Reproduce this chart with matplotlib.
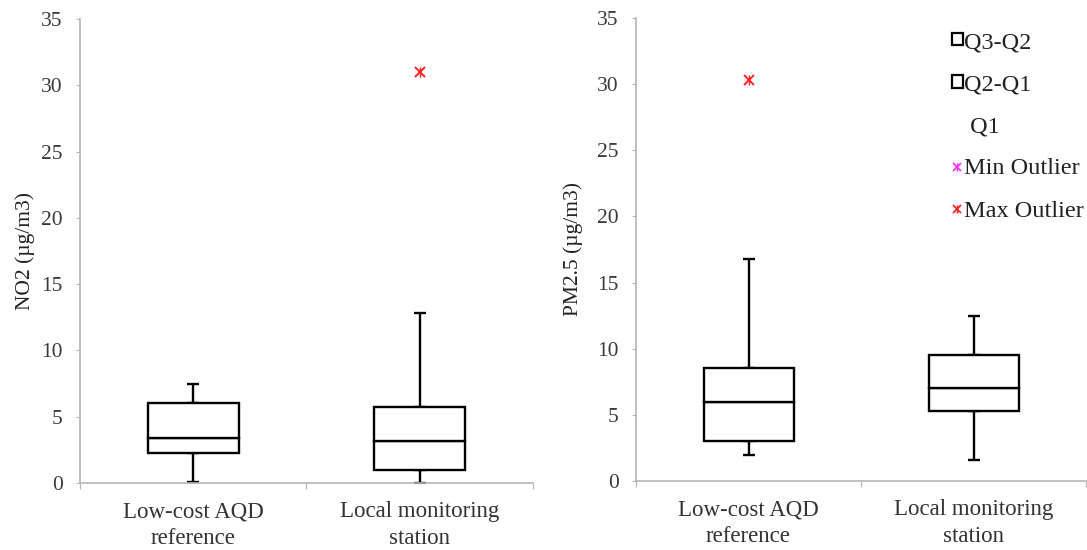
import numpy as np
import matplotlib.pyplot as plt
from matplotlib.patches import Patch
from matplotlib.lines import Line2D

plt.rcParams['font.family'] = ['Liberation Serif', 'DejaVu Serif']

categories = ["Low-cost AQD\nreference", "Local monitoring\nstation"]

# NO2 panel (five-number summary per category)
no2_min = [0.05, 0.0]
no2_q1 = [2.25, 1.0]
no2_q2 = [3.4, 3.2]
no2_q3 = [6.0, 5.7]
no2_max = [7.5, 12.8]
no2_out_max = [np.nan, 31.0]

# PM2.5 panel
pm_min = [2.0, 1.55]
pm_q1 = [3.0, 5.3]
pm_q2 = [6.0, 7.05]
pm_q3 = [8.55, 9.5]
pm_max = [16.8, 12.5]
pm_out_max = [30.3, np.nan]

TICK_COL = "#3a3a3a"
AX_COL = "#b5b5b5"
LW = 1.7


def draw_box(ax, vmin, q1, q2, q3, vmax, out_max, ylabel, lpad):
    x = np.arange(len(categories)) + 0.5
    q1 = np.array(q1); q2 = np.array(q2); q3 = np.array(q3)
    w = 0.40
    ax.bar(x, q1, w, color="none", edgecolor="none", label="Q1", zorder=2)
    ax.bar(x, q2 - q1, w, bottom=q1, facecolor="white", edgecolor="black",
           linewidth=LW, label="Q2-Q1", zorder=3)
    ax.bar(x, q3 - q2, w, bottom=q2, facecolor="white", edgecolor="black",
           linewidth=LW, label="Q3-Q2", zorder=3)
    # whiskers
    ax.errorbar(x, q3, yerr=[np.zeros(len(x)), np.array(vmax) - q3], fmt="none",
                ecolor="black", elinewidth=LW, capsize=4, capthick=LW, zorder=2)
    ax.errorbar(x, q1, yerr=[q1 - np.array(vmin), np.zeros(len(x))], fmt="none",
                ecolor="black", elinewidth=LW, capsize=4, capthick=LW, zorder=2)
    # outliers (asterisk-like marker)
    ax.plot(x, out_max, ls="none", marker="x", ms=7, mew=1.4, color="#ff2020", zorder=4)
    ax.plot(x, out_max, ls="none", marker="|", ms=7, mew=1.0, color="#ff2020", zorder=4)

    ax.set_xlim(0, 2)
    ax.set_ylim(0, 35)
    ax.set_yticks(np.arange(0, 36, 5))
    ax.set_xticks([0, 1, 2])
    ax.set_xticklabels([])
    ax.set_xticks(x, minor=True)
    ax.set_xticklabels(categories, minor=True, fontsize=16.5, color="#333333",
                       linespacing=1.35)
    ax.tick_params(axis="x", which="minor", length=0, pad=13)
    ax.tick_params(axis="x", which="major", length=4, color=AX_COL, direction="out")
    ax.tick_params(axis="y", length=3, color=AX_COL, labelsize=15.5,
                   labelcolor=TICK_COL, pad=9.5)
    for s in ["top", "right"]:
        ax.spines[s].set_visible(False)
    for s in ["left", "bottom"]:
        ax.spines[s].set_color(AX_COL)
        ax.spines[s].set_linewidth(1.2)
    ax.set_ylabel(ylabel, fontsize=15.5, color="#222222", labelpad=lpad)


fig = plt.figure(figsize=(10.87, 5.5), dpi=100)
ax1 = fig.add_axes([0.0736, 0.1218, 0.4167, 0.8436])
ax2 = fig.add_axes([0.5851, 0.1255, 0.4140, 0.8418])

draw_box(ax1, no2_min, no2_q1, no2_q2, no2_q3, no2_max, no2_out_max, "NO2 (µg/m3)", 4)
draw_box(ax2, pm_min, pm_q1, pm_q2, pm_q3, pm_max, pm_out_max, "PM2.5 (µg/m3)", 10)

box_h = Patch(facecolor="white", edgecolor="black", linewidth=1.6)
blank = Patch(facecolor="none", edgecolor="none")
min_h = (Line2D([], [], ls="none", marker="x", ms=6, mew=1.3, color="#ff33ff"),
         Line2D([], [], ls="none", marker="|", ms=6, mew=1.0, color="#ff33ff"))
max_h = (Line2D([], [], ls="none", marker="x", ms=6, mew=1.3, color="#ff2020"),
         Line2D([], [], ls="none", marker="|", ms=6, mew=1.0, color="#ff2020"))
leg = fig.legend([box_h, box_h, blank, min_h, max_h],
                 ["Q3-Q2", "Q2-Q1", " Q1", "Min Outlier", "Max Outlier"],
                 loc="upper left", bbox_to_anchor=(0.8758, 0.9418),
                 bbox_transform=fig.transFigure, frameon=False,
                 fontsize=17.5, handlelength=0.45, handleheight=0.4, handletextpad=0.05,
                 labelspacing=0.87, borderaxespad=0, borderpad=0)
for t in leg.get_texts():
    t.set_color("#222222")

fig.savefig("out.png", dpi=100, facecolor="white")
